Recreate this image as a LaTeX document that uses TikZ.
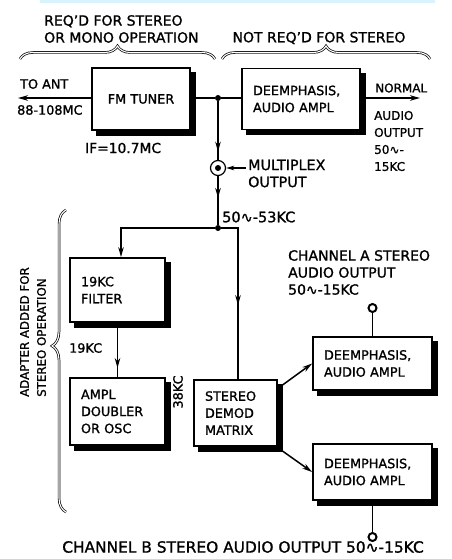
\documentclass[tikz,border=0pt]{standalone}
\usepackage{fontspec}
\setmainfont{DejaVu Sans}[FakeBold=1.2]
\newfontfamily\symf{DejaVu Sans}[FakeBold=1.2]
\usetikzlibrary{arrows.meta,decorations.pathreplacing,decorations.markings,calc,backgrounds}
\newcommand{\wave}{{\symf ∿}}
\newcommand{\fs}[1]{\fontsize{#1}{17}\selectfont}
\begin{document}
\begin{tikzpicture}[x=1pt,y=-1pt,
  font=\fs{12.8},
  every node/.style={inner sep=0pt},
  blk/.style={draw, line width=1.8pt, fill=white, align=left, inner xsep=11pt},
  shd/.style={fill=black},
  ln/.style={line width=1.5pt},
  arr/.style={ln, -{Stealth[length=10pt,width=5.5pt]}},
  midarrow/.style={ln, postaction={decorate}, decoration={markings,
    mark=at position #1 with {\arrow{Stealth[length=10pt,width=5.5pt]}}}},
  brc/.style={decorate, decoration={brace, amplitude=#1}, line width=0.7pt, double, double distance=1.1pt},
  term/.style={circle, draw, line width=2pt, minimum size=8pt, fill=white},
  dot/.style={circle, fill=black, minimum size=6pt}
]
\useasboundingbox (0,0) rectangle (451,559);
\fill[cyan!15] (40,0) rectangle (435,3);

% braces
\draw[brc=13pt] (20,59) -- (215,59);
\draw[brc=13pt] (222,59) -- (430,59);
\draw[brc=14pt, decoration={aspect=0.55}] (66,512) -- (66,210);

% headings
\node[anchor=west, align=left, font=\fs{14}] (req) at (44,29) {REQ'D FOR STEREO\\OR MONO OPERATION};
\node[font=\fs{14}] (notreq) at (319,38) {NOT REQ'D FOR STEREO};
\node[rotate=90, align=left, font=\fs{11.8}] (adapter) at (33,332) {ADAPTER ADDED FOR\\STEREO OPERATION};

% blocks
\node[blk, text width=76pt, minimum height=62pt, align=center] (tuner) at (141,99) {FM TUNER};
\node[blk, text width=96pt, minimum height=61pt] (deemph) at (301,99) {DEEMPHASIS,\\AUDIO AMPL};
\node[blk, text width=73pt, minimum height=64pt] (filter) at (117.5,290) {19KC\\FILTER};
\node[blk, text width=73pt, minimum height=67pt] (ampl) at (117.5,411.5) {AMPL\\DOUBLER\\OR OSC};
\node[blk, text width=61pt, minimum height=66pt] (demod) at (235.5,413) {STEREO\\DEMOD\\MATRIX};
\node[blk, text width=97pt, minimum height=53pt] (chA) at (372.5,363.5) {DEEMPHASIS,\\AUDIO AMPL};
\node[blk, text width=97pt, minimum height=56pt] (chB) at (372.5,472) {DEEMPHASIS,\\AUDIO AMPL};

\begin{scope}[on background layer]
  \fill[shd] ($(tuner.north west)+(5,5)$) rectangle ($(tuner.south east)+(5,5)$);
  \fill[shd] ($(deemph.north west)+(5,5)$) rectangle ($(deemph.south east)+(5,5)$);
  \fill[shd] ($(filter.north west)+(5,5)$) rectangle ($(filter.south east)+(5,5)$);
  \fill[shd] ($(ampl.north west)+(5,5)$) rectangle ($(ampl.south east)+(5,5)$);
  \fill[shd] ($(demod.north west)+(5,5)$) rectangle ($(demod.south east)+(5,5)$);
  \fill[shd] ($(chA.north west)+(5,5)$) rectangle ($(chA.south east)+(5,5)$);
  \fill[shd] ($(chB.north west)+(5,5)$) rectangle ($(chB.south east)+(5,5)$);
\end{scope}

% junctions and points
\coordinate (ant) at (18,98);
\coordinate (nout) at (420,98);
\node[dot] (j1) at (218,98) {};
\node[circle, draw, line width=1.2pt, minimum size=15pt] (mux) at (218,168) {};
\node[dot] (muxc) at (218,168) {};
\node[dot] (j2) at (218,228) {};
\coordinate (fl) at (121,228);
\coordinate (fr) at (238,228);
\coordinate (mxl) at (246,168);
\node[term] (ta) at (372.5,308) {};
\node[term] (tb) at (372.5,537) {};

% connectors
\draw[arr] (tuner.west |- ant) -- (ant);
\draw[ln] ($(tuner.east |- j1)+(4,0)$) -- (j1) -- (deemph.west |- j1);
\draw[arr] ($(deemph.east |- nout)+(4,0)$) -- (nout);
\draw[midarrow=0.86] (j1) -- (mux.north);
\draw[arr, -{Stealth[length=8pt,width=4.5pt]}] (mxl) -- (mux.east);
\draw[midarrow=0.45] (mux.south) -- (j2);
\draw[arr] (j2) -- (fl) -- (fl |- filter.north);
\draw[midarrow=0.56] (j2) -- (fr) -- (fr |- demod.north);
\draw[midarrow=0.82] ($(filter.south)+(0,4)$) -- (ampl.north);
\draw[ln] ($(ampl.east)+(4,5)$) -- ($(ampl.east)+(0,5)$ -| demod.west);
\draw[arr] ($(demod.north east)+(4.5,6)$) -- (chA.west);
\draw[arr] ($(demod.south east)+(3,3)$) -- (chB.west);
\draw[line width=1.8pt] (chA.north) -- (ta);
\draw[line width=1.8pt] ($(chB.south)+(0,4)$) -- (tb);

% labels
\node[anchor=west, font=\fs{12.8}] (toant) at (20,84) {TO ANT};
\node[anchor=west] (freq) at (17,110) {88-108MC};
\node[anchor=west, font=\fs{13.8}] (iflbl) at (85,148) {IF=10.7MC};
\node[anchor=west, align=left, font=\fs{14.3}] (mxlbl) at (248,173.5) {MULTIPLEX\\OUTPUT};
\node[anchor=west, font=\fs{14.5}] (band) at (222,217) {50\wave-53KC};
\node[anchor=west, font=\fs{12}] (normal) at (375,88) {NORMAL};
\node[anchor=west, align=left, font=\fs{12}] (nlbl) at (374,141) {AUDIO\\OUTPUT\\50\wave-\\15KC};
\node[anchor=west, align=left, font=\fs{14}] (chAlbl) at (288,272.5) {CHANNEL A STEREO\\AUDIO OUTPUT\\50\wave-15KC};
\node[anchor=west] (k19) at (69,348) {19KC};
\node[rotate=90] (k38) at (178,392) {38KC};
\node[font=\fs{15.4}] (chBlbl) at (243,547) {CHANNEL B STEREO AUDIO OUTPUT 50\wave-15KC};
\end{tikzpicture}
\end{document}
